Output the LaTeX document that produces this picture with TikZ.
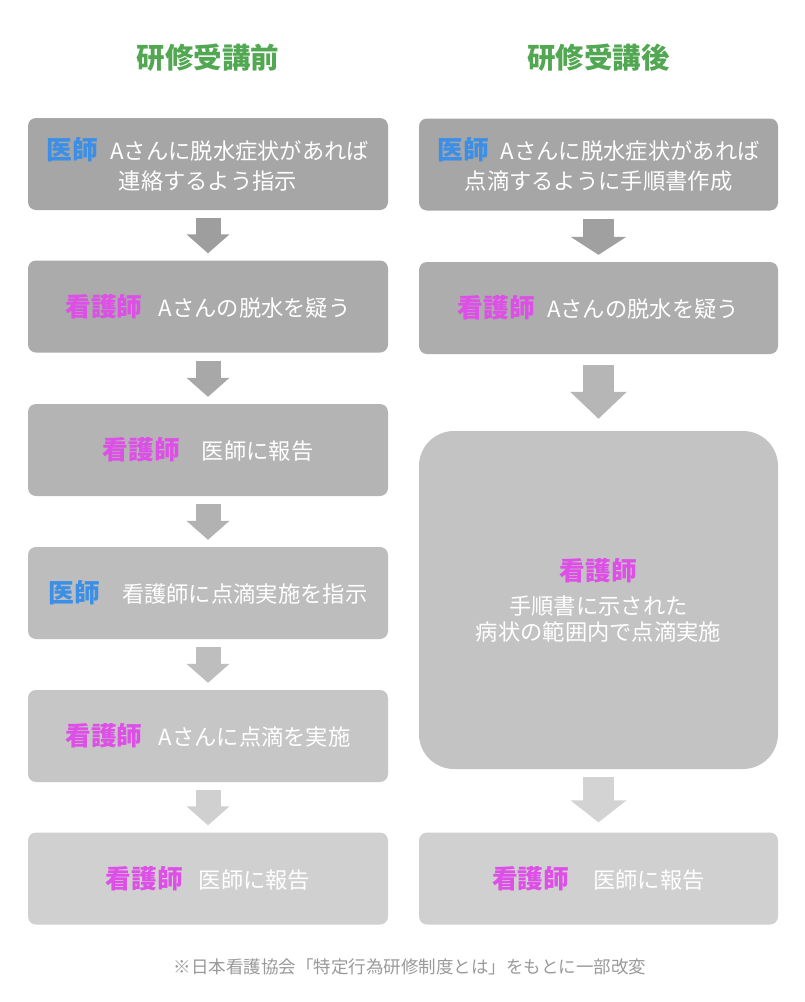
\documentclass[tikz,border=0pt]{standalone}
\usepackage{fontspec}
\setmainfont{Noto Sans CJK JP}
\usetikzlibrary{arrows.meta}
\definecolor{ttlgreen}{HTML}{52A852}
\definecolor{rolemag}{HTML}{DD4FE6}
\definecolor{roleblue}{HTML}{3C8FE6}
\definecolor{notegray}{HTML}{9A9A9A}
\newcommand{\kango}{{\fontsize{25.7}{30}\selectfont\bfseries\color{rolemag}看護師}}
\newcommand{\ishi}{{\fontsize{25.7}{30}\selectfont\bfseries\color{roleblue}医師}}
\tikzset{
  box/.style={rounded corners=8pt, minimum width=360pt, minimum height=92pt, inner sep=0pt,
    text=white, font=\fontsize{22.3}{30}\selectfont, align=center},
  ttl/.style={text=ttlgreen, font=\fontsize{28.5}{32}\selectfont\bfseries},
  arrL/.style={line width=25pt, -{Triangle[width=42pt,length=19pt]}},
  arrR/.style={line width=31pt, -{Triangle[width=55pt,length=#1]}},
}
\begin{document}
\begin{tikzpicture}[x=1pt,y=-1pt]
\path[fill=white, use as bounding box] (0,0) rectangle (804,1002);
% titles
\node[ttl] (t1) at (208,58) {研修受講前};
\node[ttl] (t2) at (598.5,58) {研修受講後};
% left column
\node[box, fill={rgb,255:red,166;green,166;blue,166}] (L1) at (208,164) {\ishi\hspace{12pt}Aさんに脱水症状があれば\\連絡するよう指示};
\node[box, fill={rgb,255:red,171;green,171;blue,171}] (L2) at (208,306.5) {\kango\hspace{16pt}Aさんの脱水を疑う};
\node[box, fill={rgb,255:red,180;green,180;blue,180}] (L3) at (208,450) {\kango\hspace{22pt}医師に報告};
\node[box, fill={rgb,255:red,189;green,189;blue,189}] (L4) at (208,593) {\ishi\hspace{22pt}看護師に点滴実施を指示};
\node[box, fill={rgb,255:red,198;green,198;blue,198}] (L5) at (208,736) {\kango\hspace{16pt}Aさんに点滴を実施};
\node[box, fill={rgb,255:red,208;green,208;blue,208}] (L6) at (208,878.5) {\kango\hspace{16pt}医師に報告};
% right column
\node[box, minimum width=359pt, fill={rgb,255:red,166;green,166;blue,166}] (R1) at (598.5,164.5) {\ishi\hspace{12pt}Aさんに脱水症状があれば\\点滴するように手順書作成};
\node[box, minimum width=359pt, fill={rgb,255:red,173;green,173;blue,173}] (R2) at (598.5,308) {\kango\hspace{12pt}Aさんの脱水を疑う};
\node[box, minimum width=359pt, minimum height=338pt, rounded corners=35pt, fill={rgb,255:red,195;green,195;blue,195}] (R3) at (598.5,600) {\kango\\[4pt]手順書に示された\\[-4pt]病状の範囲内で点滴実施};
\node[box, minimum width=359pt, fill={rgb,255:red,208;green,208;blue,208}] (R4) at (598.5,878.5) {\kango\hspace{24pt}医師に報告};
% left arrows
\draw[arrL, draw={rgb,255:red,158;green,158;blue,158}] ([yshift=-8pt]L1.south) -- ([yshift=7pt]L2.north);
\draw[arrL, draw={rgb,255:red,168;green,168;blue,168}] ([yshift=-8pt]L2.south) -- ([yshift=7pt]L3.north);
\draw[arrL, draw={rgb,255:red,178;green,178;blue,178}] ([yshift=-8pt]L3.south) -- ([yshift=7pt]L4.north);
\draw[arrL, draw={rgb,255:red,190;green,190;blue,190}] ([yshift=-8pt]L4.south) -- ([yshift=7pt]L5.north);
\draw[arrL, draw={rgb,255:red,208;green,208;blue,208}] ([yshift=-8pt]L5.south) -- ([yshift=7pt]L6.north);
% right arrows
\draw[arrR=18pt, draw={rgb,255:red,160;green,160;blue,160}] ([yshift=-8pt]R1.south) -- ([yshift=7pt]R2.north);
\draw[arrR=27pt, draw={rgb,255:red,182;green,182;blue,182}] ([yshift=-11pt]R2.south) -- ([yshift=12pt]R3.north);
\draw[arrR=22pt, draw={rgb,255:red,211;green,211;blue,211}] ([yshift=-8pt]R3.south) -- ([yshift=10pt]R4.north);
% footnote
\node[text=notegray, font=\fontsize{17.5}{20}\selectfont] (fn) at (410,967) {※日本看護協会「特定行為研修制度とは」をもとに一部改変};
\end{tikzpicture}
\end{document}
